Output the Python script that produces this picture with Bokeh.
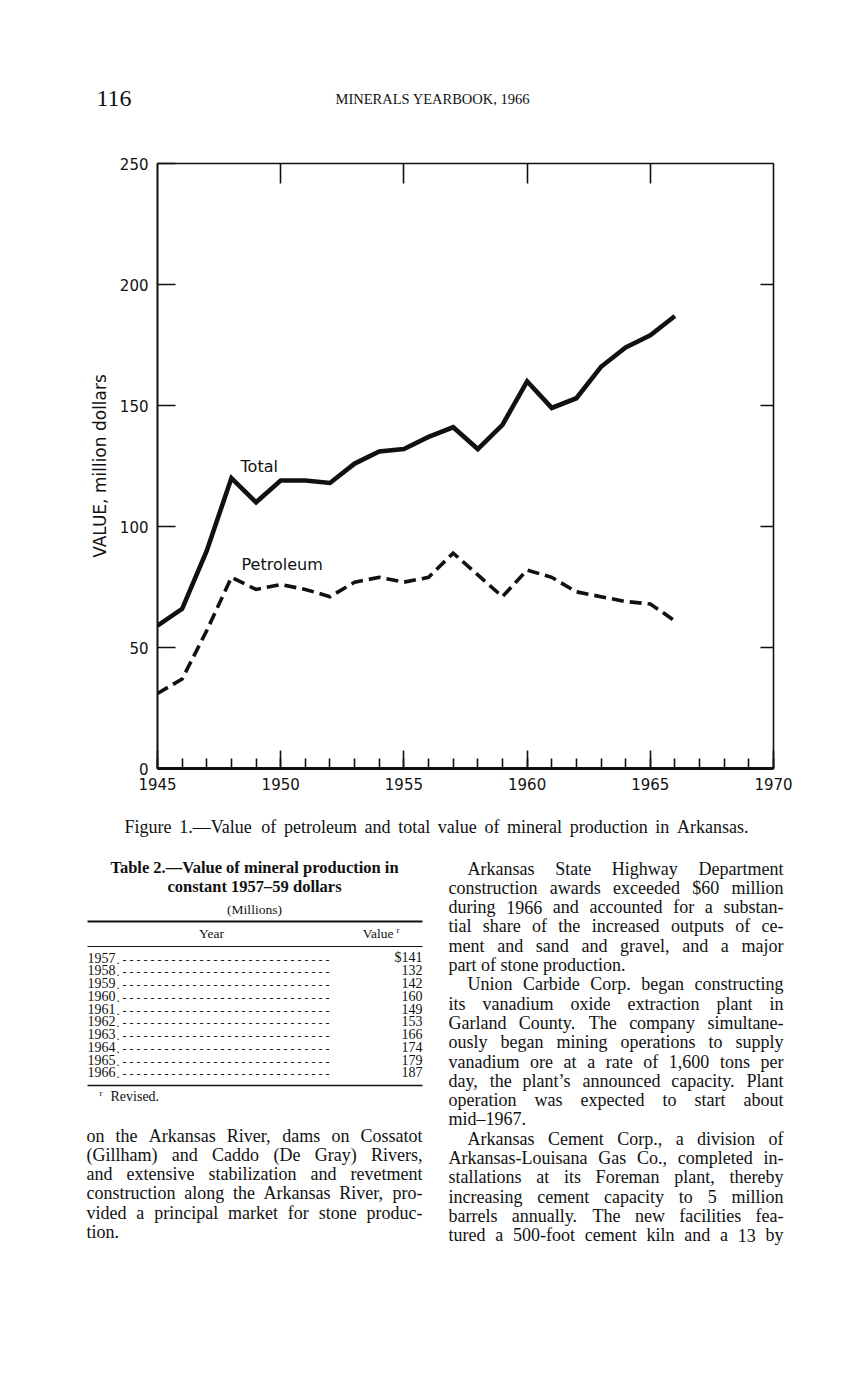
from bokeh.plotting import figure
from bokeh.layouts import column
from bokeh.models import (Label, ColumnDataSource, LinearAxis, FixedTicker,
                          SingleIntervalTicker, Range1d)
from bokeh.embed import file_html
from bokeh.resources import INLINE
from bokeh.core.properties import value

# ---------------- chart data ----------------
years = [1945, 1946, 1947, 1948, 1949, 1950, 1951, 1952, 1953, 1954, 1955,
         1956, 1957, 1958, 1959, 1960, 1961, 1962, 1963, 1964, 1965, 1966]
total = [59, 66, 90, 120, 110, 119, 119, 118, 126, 131, 132,
         137, 141, 132, 142, 160, 149, 153, 166, 174, 179, 187]
petroleum = [31, 37, 57, 79, 74, 76, 74, 71, 77, 79, 77,
             79, 89, 80, 71, 82, 79, 73, 71, 69, 68, 61]
x_ticks = [1945, 1950, 1955, 1960, 1965, 1970]
y_ticks = [0, 50, 100, 150, 200, 250]

# ---------------- table data ----------------
table_years = ["1957", "1958", "1959", "1960", "1961", "1962", "1963", "1964", "1965", "1966"]
table_values = ["$141", "132", "142", "160", "149", "153", "166", "174", "179", "187"]

# ---------------- page text ----------------
page_number = "116"
running_head = "MINERALS YEARBOOK, 1966"
caption = "Figure 1.\u2014Value of petroleum and total value of mineral production in Arkansas."
table_title = ["Table 2.\u2014Value of mineral production in", "constant 1957\u201359 dollars"]
table_unit = "(Millions)"
footnote = "Revised."

left_paragraphs = [
    (False, True, ["on the Arkansas River, dams on Cossatot",
                   "(Gillham) and Caddo (De Gray) Rivers,",
                   "and extensive stabilization and revetment",
                   "construction along the Arkansas River, pro-",
                   "vided a principal market for stone produc-",
                   "tion."]),
]
right_paragraphs = [
    (True, True, ["Arkansas State Highway Department",
                  "construction awards exceeded $60 million",
                  "during 1966 and accounted for a substan-",
                  "tial share of the increased outputs of ce-",
                  "ment and sand and gravel, and a major",
                  "part of stone production."]),
    (True, True, ["Union Carbide Corp. began constructing",
                  "its vanadium oxide extraction plant in",
                  "Garland County. The company simultane-",
                  "ously began mining operations to supply",
                  "vanadium ore at a rate of 1,600 tons per",
                  "day, the plant\u2019s announced capacity. Plant",
                  "operation was expected to start about",
                  "mid\u20131967."]),
    (True, False, ["Arkansas Cement Corp., a division of",
                   "Arkansas-Louisana Gas Co., completed in-",
                   "stallations at its Foreman plant, thereby",
                   "increasing cement capacity to 5 million",
                   "barrels annually. The new facilities fea-",
                   "tured a 500-foot cement kiln and a 13 by"]),
]

INK = "#111111"
SANS = "DejaVu Sans"
SERIF = "Liberation Serif"
W = 845
H_TOP, H_CHART, H_TEXT = 140, 666, 572
Y_CHART = H_TOP                # page y where chart figure starts
Y_TEXT = H_TOP + H_CHART       # page y where text figure starts


def no_align(f):
    # keep each figure's own frame instead of lining frames up inside the column
    if "frame_align" in type(f).properties():
        f.frame_align = False
    return f


def page_fig(height, y0):
    f = figure(width=W, height=height, output_backend="svg", toolbar_location=None,
               x_range=Range1d(0, W), y_range=Range1d(y0 + height, y0),
               x_axis_location=None, y_axis_location=None,
               min_border=0, outline_line_color=None,
               background_fill_color="white", border_fill_color="white")
    f.xgrid.visible = False
    f.ygrid.visible = False
    return no_align(f)


# ---------------- header ----------------
head = page_fig(H_TOP, 0)
head.text(x=[96], y=[98], text=[page_number], text_font=value(SERIF),
          text_font_size=value("24px"), text_baseline="middle", text_color=INK)
head.text(x=[335], y=[98], text=[running_head], text_font=value(SERIF),
          text_font_size=value("14.5px"), text_baseline="middle", text_color=INK)

# ---------------- chart ----------------
FL, FR = 157, 773
FT, FB = 163 - Y_CHART, 768 - Y_CHART
p = figure(width=W, height=H_CHART, output_backend="svg", toolbar_location=None,
           x_range=Range1d(1945, 1970), y_range=Range1d(0, 250),
           min_border_left=FL, min_border_right=W - FR,
           min_border_top=FT, min_border_bottom=H_CHART - FB,
           background_fill_color="white", border_fill_color="white")
no_align(p)
p.xgrid.visible = False
p.ygrid.visible = False
p.outline_line_color = INK
p.outline_line_width = 1.6

xa = p.xaxis[0]
xa.ticker = SingleIntervalTicker(interval=5, num_minor_ticks=5)
xa.major_tick_in = 18
xa.major_tick_out = 0
xa.minor_tick_in = 10
xa.minor_tick_out = 0
xa.axis_line_width = 3
xa.axis_line_color = INK
xa.major_tick_line_width = 1.6
xa.minor_tick_line_width = 1.6
xa.major_tick_line_color = INK
xa.minor_tick_line_color = INK
xa.major_label_text_font = SANS
xa.major_label_text_font_size = "15px"
xa.major_label_text_color = INK
xa.major_label_standoff = 9

ya = p.yaxis[0]
ya.ticker = FixedTicker(ticks=y_ticks)
ya.major_tick_in = 18
ya.major_tick_out = 0
ya.minor_tick_line_color = None
ya.axis_line_color = INK
ya.axis_line_width = 1.6
ya.major_tick_line_width = 1.6
ya.major_tick_line_color = INK
ya.major_label_text_font = SANS
ya.major_label_text_font_size = "15px"
ya.major_label_text_color = INK
ya.major_label_standoff = 9
ya.axis_label = "VALUE, million dollars"
ya.axis_label_text_font = SANS
ya.axis_label_text_font_size = "17px"
ya.axis_label_text_font_style = "normal"
ya.axis_label_text_color = INK
ya.axis_label_standoff = 7

top = LinearAxis(ticker=FixedTicker(ticks=x_ticks[1:-1]),
                 major_tick_in=20, major_tick_out=0, axis_line_color=None,
                 major_tick_line_width=1.6, major_tick_line_color=INK,
                 minor_tick_line_color=None, major_label_standoff=0,
                 major_label_text_font_size="1px",
                 major_label_overrides={t: "" for t in x_ticks[1:-1]})
right = LinearAxis(ticker=FixedTicker(ticks=y_ticks[1:-1]),
                   major_tick_in=13, major_tick_out=0, axis_line_color=None,
                   major_tick_line_width=1.6, major_tick_line_color=INK,
                   minor_tick_line_color=None, major_label_standoff=0,
                   major_label_text_font_size="1px",
                   major_label_overrides={t: "" for t in y_ticks[1:-1]})
p.add_layout(top, "above")
p.add_layout(right, "right")

src = ColumnDataSource(dict(year=years, total=total, petroleum=petroleum))
p.line("year", "total", source=src, line_width=4.6, line_color=INK,
       line_join="miter", legend_label="Total")
p.line("year", "petroleum", source=src, line_width=3.6, line_color=INK,
       line_dash="12 6", line_join="miter", legend_label="Petroleum")
p.legend.visible = False

p.add_layout(Label(x=1948.37, y=124.8, text="Total", text_font=SANS,
                   text_font_size="16px", text_baseline="middle", text_color=INK))
p.add_layout(Label(x=1948.41, y=84.3, text="Petroleum", text_font=SANS,
                   text_font_size="16px", text_baseline="middle", text_color=INK))

# ---------------- text block below chart ----------------
t = page_fig(H_TEXT, Y_TEXT)

# Times-compatible advance widths (Liberation Serif is metric-compatible)
TW = {' ': 250, '!': 333, '$': 500, '%': 833, "'": 180, '\u2019': 333, '(': 333, ')': 333,
      ',': 250, '-': 333, '.': 250, '/': 278, ':': 278, ';': 278, '\u2013': 500, '\u2014': 1000}
for c in "0123456789":
    TW[c] = 500
for c, w in zip("ABCDEFGHIJKLMNOPQRSTUVWXYZ",
                [722, 667, 667, 722, 611, 556, 722, 722, 333, 389, 722, 611, 889, 722, 722,
                 556, 722, 667, 556, 611, 722, 722, 944, 722, 722, 611]):
    TW[c] = w
for c, w in zip("abcdefghijklmnopqrstuvwxyz",
                [444, 500, 444, 500, 444, 333, 500, 500, 278, 278, 500, 278, 778, 500, 500,
                 500, 500, 333, 389, 278, 500, 500, 722, 500, 500, 444]):
    TW[c] = w


def tw(s, size):
    return sum(TW.get(c, 500) for c in s) * size / 1000.0


def justify(line, left, right, y, size, just=True):
    words = line.split(" ")
    widths = [tw(w, size) for w in words]
    if just and len(words) > 1:
        gap = (right - left - sum(widths)) / (len(words) - 1)
    else:
        gap = tw(" ", size)
    out = []
    x = left
    for w, wd in zip(words, widths):
        out.append((x, y, w))
        x += wd + gap
    return out


def put(items, size, style="normal", align="left", baseline="middle"):
    t.text(x=[i[0] for i in items], y=[i[1] for i in items], text=[i[2] for i in items],
           text_font=value(SERIF), text_font_size=value(size), text_font_style=style,
           text_align=align, text_baseline=baseline, text_color=INK)


def rule(x0, x1, y, w):
    t.line(x=[x0, x1], y=[y, y], line_width=w, line_color=INK)


# caption
put(justify(caption, 124, 748, 826, 18), "18px")

# table
put([(254, 867, table_title[0]), (254, 886, table_title[1])], "16.5px",
    style="bold", align="center")
put([(254, 909, table_unit), (211, 933, "Year")], "13.5px", align="center")
put([(393, 933, "Value")], "13.5px", align="right")
put([(396, 929, "r"), (99, 1092, "r")], "9px")
rule(87, 422, 921, 2)
rule(87, 422, 946, 1)
rule(87, 422, 1085, 1.5)
rows, vals, leads = [], [], []
for i, (yr, v) in enumerate(zip(table_years, table_values)):
    yy = 957 + i * 12.75
    rows.append((87, yy, yr))
    vals.append((422, yy, v))
    leads.append((116, yy + 2, "." + " -" * 30))
put(rows, "14px")
put(vals, "14px", align="right")
put(leads, "12px")
put([(110, 1096, footnote)], "14px")


def body_column(paragraphs, left, right, y0, pitch, size, indent):
    items = []
    k = 0
    for ind, ends, lines in paragraphs:
        for j, ln in enumerate(lines):
            lx = left + (indent if (ind and j == 0) else 0)
            last = ends and j == len(lines) - 1
            items += justify(ln, lx, right, y0 + k * pitch, size, just=not last)
            k += 1
    return items


body = body_column(left_paragraphs, 86, 422, 1135, 19.3, 18, 19)
body += body_column(right_paragraphs, 448, 783, 868, 19.3, 18, 19)
put(body, "18px")

page = column(head, p, t, spacing=0)
open("out.html", "w").write(file_html(page, INLINE))
